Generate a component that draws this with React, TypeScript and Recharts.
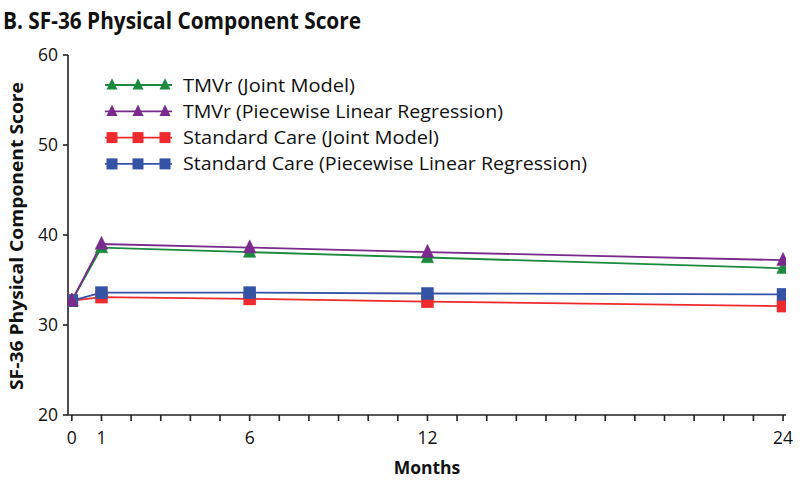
import React from 'react';
import { LineChart, Line, XAxis, YAxis, Legend } from 'recharts';

const months = [0, 1, 6, 12, 24];
const tmvrJoint = [32.7, 38.6, 38.1, 37.5, 36.3];
const tmvrPLR = [32.7, 39.0, 38.6, 38.1, 37.2];
const scJoint = [32.7, 33.1, 32.9, 32.6, 32.1];
const scPLR = [32.7, 33.6, 33.6, 33.5, 33.4];

const xMinorTicks = Array.from({ length: 25 }, (_, i) => i);
const xTickLabels = [0, 1, 6, 12, 24];
const yTicks = [20, 30, 40, 50, 60];

const seriesNames = [
  'TMVr (Joint Model)',
  'TMVr (Piecewise Linear Regression)',
  'Standard Care (Joint Model)',
  'Standard Care (Piecewise Linear Regression)',
];

const data = months.map((m, i) => ({
  month: m,
  tmvrJoint: tmvrJoint[i],
  tmvrPLR: tmvrPLR[i],
  scJoint: scJoint[i],
  scPLR: scPLR[i],
}));

const GREEN = '#1b8a3f';
const PURPLE = '#7a2a8c';
const RED = '#ee2a2e';
const BLUE = '#3553a5';
const FONT = '"Open Sans", "Noto Sans", sans-serif';

const triPath = (cx: number, cy: number, s: number) =>
  `M${cx},${cy - s * 0.62}L${cx + s / 2},${cy + s * 0.42}L${cx - s / 2},${cy + s * 0.42}Z`;

const makeTri = (color: string, s: number) => (props: any) => {
  const { cx, cy, index } = props;
  if (cx == null || cy == null) return <g key={`t${index}`} />;
  return <path key={`t${color}${index}`} d={triPath(cx, cy, s)} fill={color} stroke={color} strokeWidth={0.5} />;
};

const makeSq = (color: string, s: number) => (props: any) => {
  const { cx, cy, index } = props;
  if (cx == null || cy == null) return <g key={`s${index}`} />;
  return <rect key={`s${color}${index}`} x={cx - s / 2} y={cy - s / 2} width={s} height={s} fill={color} />;
};

const legendItems = [
  { name: seriesNames[0], color: GREEN, shape: 'tri', len: 172 },
  { name: seriesNames[1], color: PURPLE, shape: 'tri', len: 320 },
  { name: seriesNames[2], color: RED, shape: 'sq', len: 256 },
  { name: seriesNames[3], color: BLUE, shape: 'sq', len: 404 },
];

const LegendContent = () => (
  <svg width={500} height={110} style={{ display: 'block', overflow: 'visible' }}>
    {legendItems.map((it, i) => {
      const y = 10 + i * 26.3;
      const xs = [12, 38, 65];
      return (
        <g key={it.name}>
          <line x1={5} x2={72} y1={y} y2={y} stroke={it.color} strokeWidth={1.8} />
          {xs.map((x) =>
            it.shape === 'tri' ? (
              <path key={x} d={triPath(x, y, 11)} fill={it.color} />
            ) : (
              <rect key={x} x={x - 5.5} y={y - 5.5} width={11} height={11} fill={it.color} />
            )
          )}
          <text
            x={83}
            y={y + 6.5}
            fontFamily={FONT}
            fontSize={18.5}
            fill="#111"
            textLength={it.len}
            lengthAdjust="spacingAndGlyphs"
          >
            {it.name}
          </text>
        </g>
      );
    })}
  </svg>
);

export default function App() {
  return (
    <div style={{ position: 'absolute', left: 0, top: 0, width: 800, height: 480, background: '#fff' }}>
      <LineChart
        width={800}
        height={480}
        data={data}
        margin={{ top: 55, right: 14, left: 0, bottom: 0 }}
      >
        <XAxis
          dataKey="month"
          type="number"
          domain={[-0.13, 24.1]}
          ticks={xMinorTicks}
          interval={0}
          height={65}
          tickSize={6}
          stroke="#222"
          strokeWidth={1.6}
          tick={{ fill: '#111', fontSize: 17.5, fontFamily: FONT }}
          tickFormatter={(v: number) => (xTickLabels.includes(v) ? String(v) : '')}
          tickMargin={11}
          allowDataOverflow
        />
        <XAxis
          xAxisId="top"
          orientation="top"
          type="number"
          domain={[0, 1]}
          height={0}
          tick={false}
          tickLine={false}
          stroke="#222"
          strokeWidth={1.6}
        />
        <YAxis
          type="number"
          domain={[20, 60]}
          ticks={yTicks}
          width={68}
          tickSize={5}
          stroke="#222"
          strokeWidth={1.6}
          tick={{ fill: '#111', fontSize: 17.5, fontFamily: FONT }}
          tickMargin={5}
        />
        <YAxis
          yAxisId="right"
          orientation="right"
          type="number"
          domain={[0, 1]}
          width={0}
          tick={false}
          tickLine={false}
          stroke="#222"
          strokeWidth={1.6}
        />
        <Legend
          content={<LegendContent />}
          wrapperStyle={{ position: 'absolute', left: 100, top: 75, width: 0, height: 0, overflow: 'visible' }}
        />
        <Line
          dataKey="scJoint"
          name={seriesNames[2]}
          stroke={RED}
          strokeWidth={1.8}
          dot={makeSq(RED, 12.5)}
          isAnimationActive={false}
        />
        <Line
          dataKey="scPLR"
          name={seriesNames[3]}
          stroke={BLUE}
          strokeWidth={1.8}
          dot={makeSq(BLUE, 12.5)}
          isAnimationActive={false}
        />
        <Line
          dataKey="tmvrJoint"
          name={seriesNames[0]}
          stroke={GREEN}
          strokeWidth={1.8}
          dot={makeTri(GREEN, 12.5)}
          isAnimationActive={false}
        />
        <Line
          dataKey="tmvrPLR"
          name={seriesNames[1]}
          stroke={PURPLE}
          strokeWidth={1.8}
          dot={makeTri(PURPLE, 12.5)}
          isAnimationActive={false}
        />
      </LineChart>
      <svg
        width={800}
        height={480}
        style={{ position: 'absolute', left: 0, top: 0, pointerEvents: 'none' }}
      >
        <text x={3} y={29} fontFamily={FONT} fontWeight={700} fontSize={22.5} fill="#111" textLength={358} lengthAdjust="spacingAndGlyphs">
          B. SF-36 Physical Component Score
        </text>
        <text
          x={0}
          y={0}
          transform="translate(23,236) rotate(-90)"
          textAnchor="middle"
          fontFamily={FONT}
          fontWeight={700}
          fontSize={18}
          fill="#111"
          textLength={308}
          lengthAdjust="spacingAndGlyphs"
        >
          SF-36 Physical Component Score
        </text>
        <text x={427} y={474} textAnchor="middle" fontFamily={FONT} fontWeight={700} fontSize={17.5} fill="#111">
          Months
        </text>
      </svg>
    </div>
  );
}
